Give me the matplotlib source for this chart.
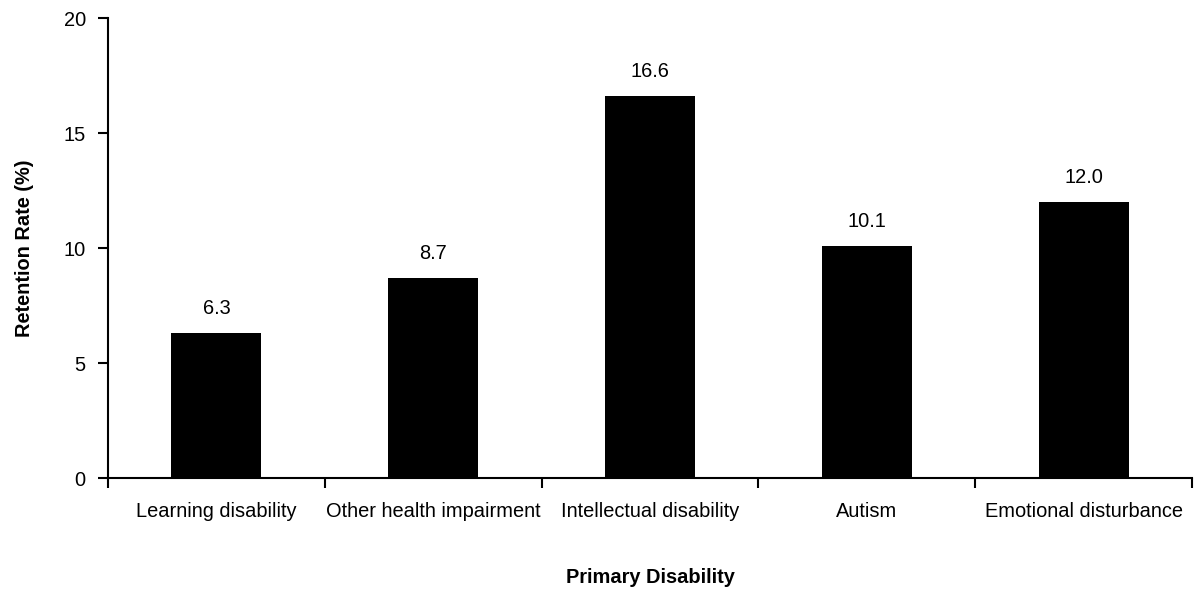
import matplotlib.pyplot as plt
import numpy as np

plt.rcParams['font.family'] = ['Liberation Sans', 'DejaVu Sans']

categories = ['Learning disability', 'Other health impairment', 'Intellectual disability',
              'Autism', 'Emotional disturbance']
retention = [6.3, 8.7, 16.6, 10.1, 12.0]
labels = ['6.3', '8.7', '16.6', '10.1', '12.0']

fs = 14.4

fig = plt.figure(figsize=(11.99, 5.97), dpi=100)
ax = fig.add_axes([0.0901, 0.1993, 0.9041, 0.7705])

x = np.arange(len(categories))
ax.bar(x, retention, width=0.415, color='black')

for xi, v, lab in zip(x, retention, labels):
    ax.text(xi, v + 0.65, lab, ha='center', va='bottom', fontsize=fs)

ax.set_xlim(-0.5, len(categories) - 0.5)
ax.set_ylim(0, 20)
ax.set_yticks([0, 5, 10, 15, 20])

# category names centered, ticks at the boundaries
ax.set_xticks(x)
ax.set_xticklabels(categories, fontsize=fs)
ax.tick_params(axis='x', which='major', length=0, pad=17)
ax.set_xticks(np.arange(len(categories) + 1) - 0.5, minor=True)
ax.tick_params(axis='x', which='minor', length=7, width=1.5, direction='out')
ax.tick_params(axis='y', length=7, width=1.5, labelsize=fs, pad=9)

ax.spines['top'].set_visible(False)
ax.spines['right'].set_visible(False)
ax.spines['left'].set_linewidth(1.5)
ax.spines['bottom'].set_linewidth(1.5)

ax.set_ylabel('Retention Rate (%)', fontsize=fs, fontweight='bold', labelpad=21)
ax.set_xlabel('Primary Disability', fontsize=fs, fontweight='bold', labelpad=34)

fig.savefig('out.png', dpi=100)
